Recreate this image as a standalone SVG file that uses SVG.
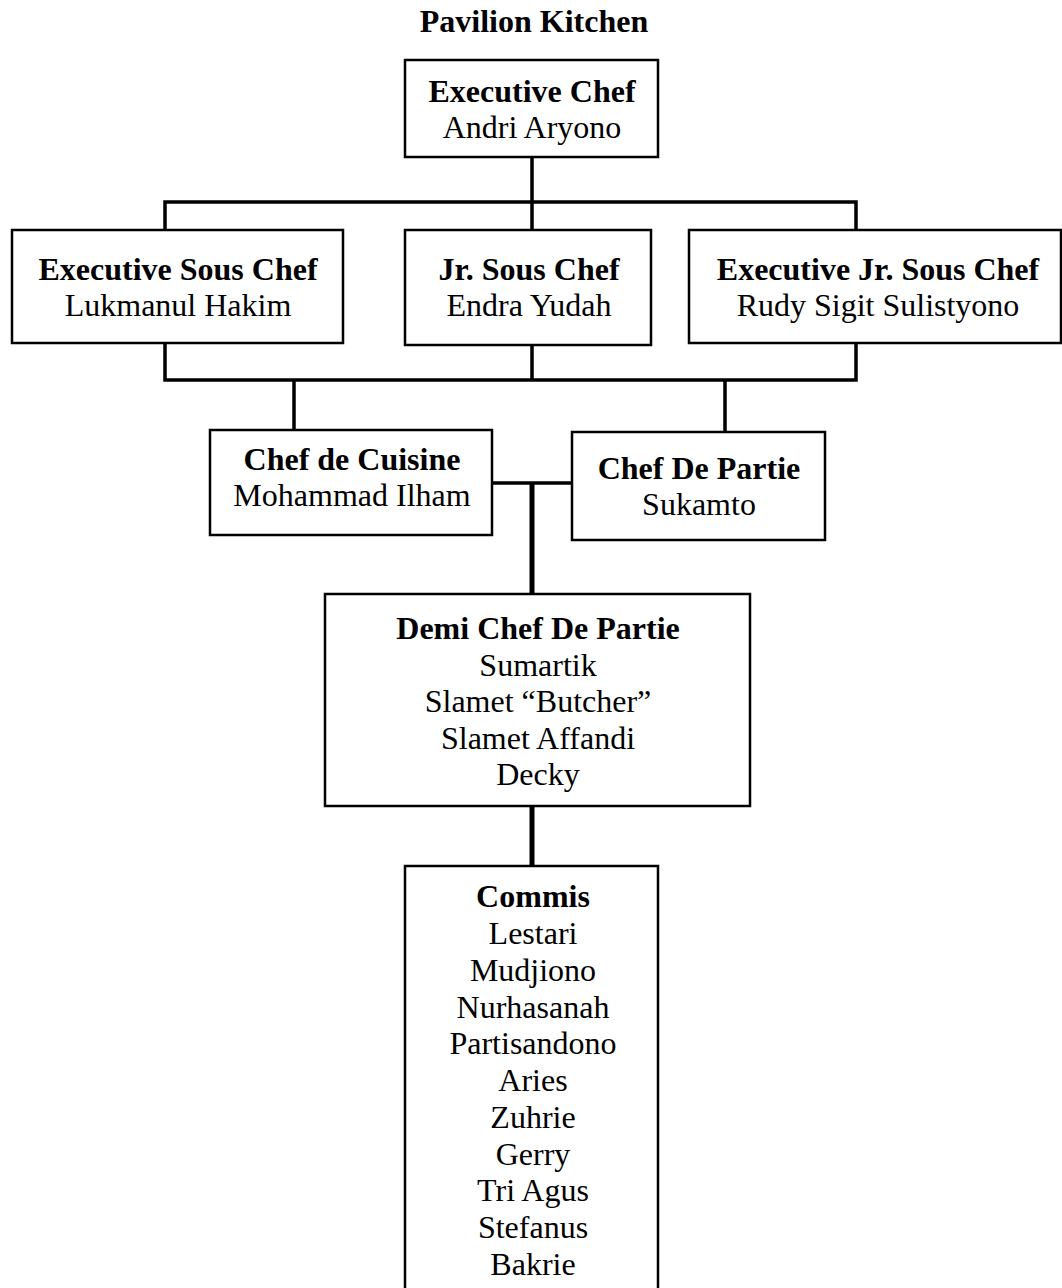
<svg xmlns="http://www.w3.org/2000/svg" width="1062" height="1288" viewBox="0 0 1062 1288">
<style>
.box{fill:#fff;stroke:#000;stroke-width:2.5}
.t{font-family:"Liberation Serif","Times New Roman",serif;font-size:32px;fill:#000;text-anchor:middle}
.b{font-weight:bold}
.c{fill:none;stroke:#000;stroke-width:3.5;stroke-linecap:square}
.c2{fill:none;stroke:#000;stroke-width:5}
</style>
<rect width="1062" height="1288" fill="#fff"/>
<text class="t b" x="534" y="32">Pavilion Kitchen</text>
<g id="connectors">
<path class="c" d="M532 157V202M165 202H856M165 202V230M532 202V230M856 202V230"/>
<path class="c" d="M165 343V380M532 345V380M856 343V380M165 380H856M294 380V430M725 380V432"/>
<path class="c" d="M492 483H572"/>
<path class="c2" d="M532 483V594M532 806V866"/>
</g>
<g id="executive-chef">
<rect class="box" x="405" y="60" width="253" height="97"/>
<text class="t b" x="532" y="102">Executive Chef</text>
<text class="t" x="532" y="138">Andri Aryono</text>
</g>
<g id="executive-sous-chef">
<rect class="box" x="12" y="230" width="331" height="113"/>
<text class="t b" x="178" y="280">Executive Sous Chef</text>
<text class="t" x="178" y="316">Lukmanul Hakim</text>
</g>
<g id="jr-sous-chef">
<rect class="box" x="405" y="230" width="246" height="115"/>
<text class="t b" x="529" y="280">Jr. Sous Chef</text>
<text class="t" x="529" y="316">Endra Yudah</text>
</g>
<g id="executive-jr-sous-chef">
<rect class="box" x="689" y="230" width="372" height="113"/>
<text class="t b" x="878" y="280">Executive Jr. Sous Chef</text>
<text class="t" x="878" y="316">Rudy Sigit Sulistyono</text>
</g>
<g id="chef-de-cuisine">
<rect class="box" x="210" y="430" width="282" height="105"/>
<text class="t b" x="352" y="470">Chef de Cuisine</text>
<text class="t" x="352" y="506">Mohammad Ilham</text>
</g>
<g id="chef-de-partie">
<rect class="box" x="572" y="432" width="253" height="108"/>
<text class="t b" x="699" y="479">Chef De Partie</text>
<text class="t" x="699" y="515">Sukamto</text>
</g>
<g id="demi-chef-de-partie">
<rect class="box" x="325" y="594" width="425" height="212"/>
<text class="t b" x="538" y="639">Demi Chef De Partie</text>
<text class="t" x="538" y="676">Sumartik</text>
<text class="t" x="538" y="712">Slamet “Butcher”</text>
<text class="t" x="538" y="749">Slamet Affandi</text>
<text class="t" x="538" y="785">Decky</text>
</g>
<g id="commis">
<rect class="box" x="405" y="866" width="253" height="430"/>
<text class="t b" x="533" y="907">Commis</text>
<text class="t" x="533" y="944">Lestari</text>
<text class="t" x="533" y="981">Mudjiono</text>
<text class="t" x="533" y="1018">Nurhasanah</text>
<text class="t" x="533" y="1054">Partisandono</text>
<text class="t" x="533" y="1091">Aries</text>
<text class="t" x="533" y="1128">Zuhrie</text>
<text class="t" x="533" y="1165">Gerry</text>
<text class="t" x="533" y="1201">Tri Agus</text>
<text class="t" x="533" y="1238">Stefanus</text>
<text class="t" x="533" y="1275">Bakrie</text>
</g>
</svg>
